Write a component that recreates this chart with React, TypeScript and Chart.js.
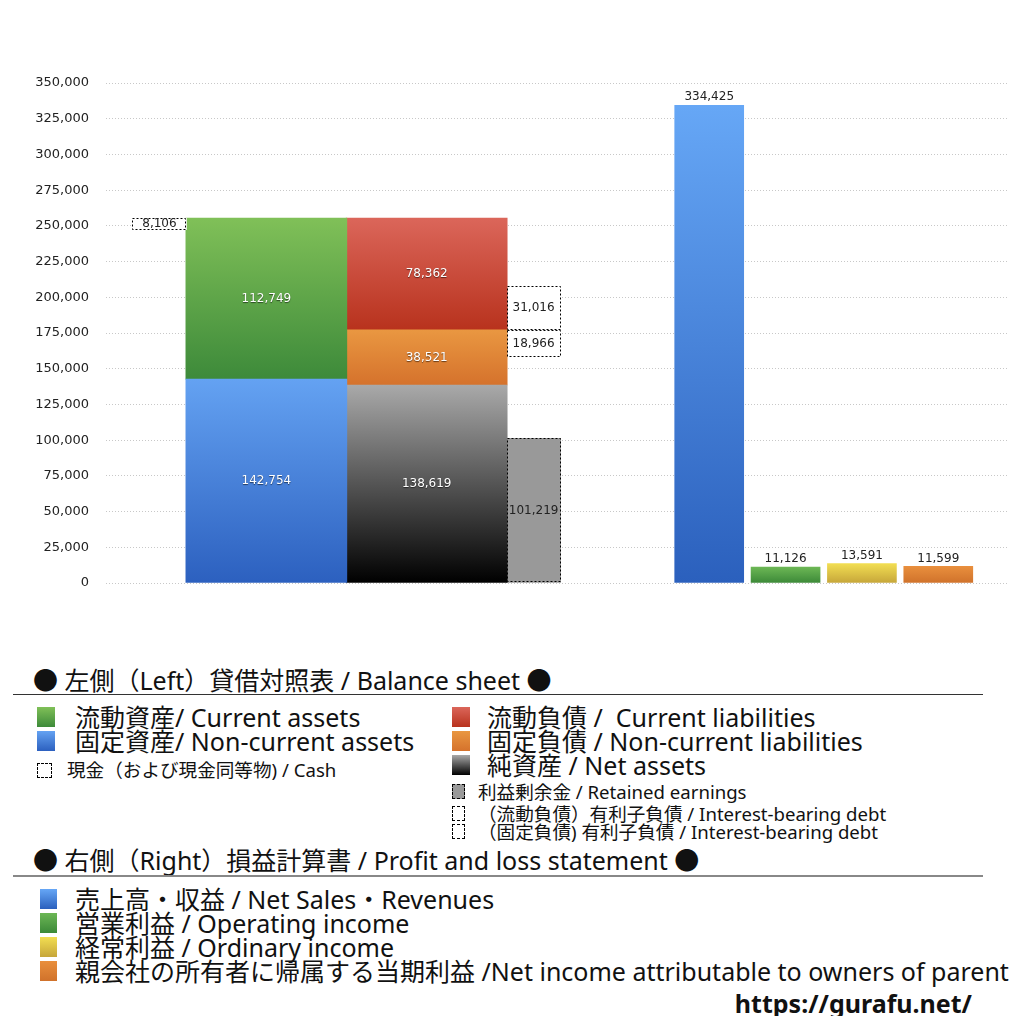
import { useEffect, useRef } from "react";
import { Chart, registerables } from "chart.js";

Chart.register(...registerables);

// ---- data (million yen) ----
const columns = [
  "現金",
  "資産",
  "負債・純資産",
  "利益剰余金・有利子負債",
  "売上高・収益",
  "営業利益",
  "経常利益",
  "当期利益",
];

const assetNames = ["固定資産", "流動資産"];
const assetValues = [142754, 112749];
const claimNames = ["純資産", "固定負債", "流動負債"];
const claimValues = [138619, 38521, 78362];
const cashValue = 8106;
const retainedEarnings = 101219;
const debtNames = ["固定負債 有利子負債", "流動負債 有利子負債"];
const debtValues = [18966, 31016];
const plNames = ["売上高・収益", "営業利益", "経常利益", "当期利益"];
const plValues = [334425, 11126, 13591, 11599];

const yMax = 350000;
const yStep = 25000;

// ---- legend texts ----
const bsTitle = "● 左側（Left）貸借対照表 / Balance sheet ●";
const bsLegendLeft = ["流動資産/ Current assets", "固定資産/ Non-current assets"];
const cashLegend = "現金（および現金同等物) / Cash";
const bsLegendRight = [
  "流動負債 /  Current liabilities",
  "固定負債 / Non-current liabilities",
  "純資産 / Net assets",
];
const bsLegendSmall = [
  "利益剰余金 / Retained earnings",
  "（流動負債）有利子負債 / Interest-bearing debt",
  "（固定負債) 有利子負債 / Interest-bearing debt",
];
const plTitle = "● 右側（Right）損益計算書 / Profit and loss statement ●";
const plLegend = [
  "売上高・収益 / Net Sales・Revenues",
  "営業利益 / Operating income",
  "経常利益 / Ordinary income",
  "親会社の所有者に帰属する当期利益 /Net income attributable to owners of parent",
];
const siteUrl = "https://gurafu.net/";

// ---- layout / styles ----
// bars sit on a fine, evenly spaced category grid
const SLOT_COUNT = 119;
const columnSlots = [7, 21, 42, 56, 79, 89, 99, 109];

const gradients: Record<string, [string, string]> = {
  固定資産: ["#64a2f2", "#2c60bf"],
  流動資産: ["#80c058", "#3d8a3a"],
  純資産: ["#a9a9a9", "#000000"],
  固定負債: ["#e99741", "#d5722c"],
  流動負債: ["#db665a", "#b8321d"],
  "売上高・収益": ["#66a7f6", "#2b60bd"],
  営業利益: ["#6cb755", "#3c8938"],
  経常利益: ["#f2de52", "#c6a63a"],
  当期利益: ["#e98f3d", "#d0722b"],
};
const NUM_FONT = "'DejaVu Sans', sans-serif";
const TEXT_FONT = "'Noto Sans', 'Noto Sans CJK JP', sans-serif";

const xLabels = Array.from({ length: SLOT_COUNT }, (_, i) => {
  const c = columnSlots.indexOf(i);
  return c >= 0 ? columns[c] : "";
});

function ranges(values: number[]) {
  let acc = 0;
  return values.map((v) => {
    const r = [acc, acc + v];
    acc += v;
    return r;
  });
}

function vGradient(colors: [string, string]) {
  return (c: any) => {
    const { chart, raw } = c;
    if (!chart.chartArea || !raw) return colors[0];
    const y = chart.scales.y;
    const top = y.getPixelForValue(raw.y[1]);
    const bottom = y.getPixelForValue(raw.y[0]);
    const g = chart.ctx.createLinearGradient(0, top, 0, bottom);
    g.addColorStop(0, colors[0]);
    g.addColorStop(1, colors[1]);
    return g;
  };
}

function buildDatasets() {
  const assetRanges = ranges(assetValues);
  const totalAssets = assetRanges[assetRanges.length - 1][1];
  const claimRanges = ranges(claimValues);
  const fixedTop = claimRanges[1][1];

  const bar = (
    label: string,
    col: number,
    range: number[],
    fill: any,
    thickness: number,
    labelMode: string,
    dashed = false,
  ) => ({
    label,
    data: [{ x: columns[col], y: range }],
    backgroundColor: fill,
    borderWidth: 0,
    barThickness: thickness,
    labelMode,
    dashed,
  });

  return [
    bar("現金", 0, [totalAssets - cashValue, totalAssets], "#ffffff", 54, "dark", true),
    ...assetNames.map((n, i) => bar(n, 1, assetRanges[i], vGradient(gradients[n]), 161, "light")),
    ...claimNames.map((n, i) => bar(n, 2, claimRanges[i], vGradient(gradients[n]), 161, "light")),
    bar("利益剰余金", 3, [0, retainedEarnings], "#999999", 54, "dark", true),
    bar(debtNames[0], 3, [fixedTop - debtValues[0], fixedTop], "#ffffff", 54, "dark", true),
    bar(debtNames[1], 3, [fixedTop, fixedTop + debtValues[1]], "#ffffff", 54, "dark", true),
    ...plNames.map((n, i) => bar(n, 4 + i, [0, plValues[i]], vGradient(gradients[n]), 69, "above")),
  ];
}

const annotate = {
  id: "annotate",
  afterDatasetsDraw(chart: any) {
    const { ctx } = chart;
    chart.data.datasets.forEach((ds: any, i: number) => {
      const meta = chart.getDatasetMeta(i);
      meta.data.forEach((el: any, j: number) => {
        const raw = ds.data[j];
        const { x, y, base, width } = el.getProps(["x", "y", "base", "width"], true);
        const left = x - width / 2;
        const top = Math.min(y, base);
        const h = Math.abs(base - y);
        ctx.save();
        if (ds.dashed) {
          ctx.strokeStyle = "#000";
          ctx.lineWidth = 1;
          ctx.setLineDash([2, 2]);
          ctx.strokeRect(Math.round(left) + 0.5, Math.round(top) + 0.5, Math.round(width) - 1, Math.round(h) - 1);
          ctx.setLineDash([]);
        }
        const text = (raw.y[1] - raw.y[0]).toLocaleString("en-US");
        ctx.font = `12px ${NUM_FONT}`;
        ctx.textAlign = "center";
        if (ds.labelMode === "above") {
          ctx.fillStyle = "#222";
          ctx.textBaseline = "bottom";
          ctx.fillText(text, x, top - 2);
        } else if (ds.labelMode === "light") {
          ctx.fillStyle = "#fff";
          ctx.shadowColor = "rgba(0,0,0,0.55)";
          ctx.shadowOffsetY = 1;
          ctx.shadowBlur = 1;
          ctx.textBaseline = "middle";
          ctx.fillText(text, x, top + h / 2);
        } else {
          ctx.fillStyle = "#222";
          ctx.textBaseline = "middle";
          ctx.fillText(text, x, top + h / 2);
        }
        ctx.restore();
      });
    });
  },
};

function Swatch({ style }: { style: any }) {
  return <span style={{ position: "absolute", boxSizing: "border-box", ...style }} />;
}

const grad = (n: string) => `linear-gradient(${gradients[n][0]}, ${gradients[n][1]})`;
const dashedBox = "1px dashed #000";

function Row({ top, height, left, text, size }: { top: number; height: number; left: number; text: string; size: number }) {
  return (
    <div
      style={{
        position: "absolute",
        top,
        left,
        height,
        lineHeight: `${height}px`,
        fontSize: size,
        whiteSpace: "pre",
      }}
    >
      {text}
    </div>
  );
}

export default function App() {
  const canvasRef = useRef<HTMLCanvasElement>(null);

  useEffect(() => {
    if (!canvasRef.current) return;
    const chart = new Chart(canvasRef.current, {
      type: "bar",
      data: { labels: xLabels, datasets: buildDatasets() as any },
      options: {
        animation: false,
        responsive: true,
        maintainAspectRatio: false,
        layout: { padding: { top: 75, right: 9, bottom: 25, left: 8 } },
        plugins: { legend: { display: false }, tooltip: { enabled: false } },
        scales: {
          x: { type: "category", offset: false, stacked: true, display: false },
          y: {
            min: 0,
            max: yMax,
            stacked: false,
            ticks: {
              stepSize: yStep,
              padding: 17,
              color: "#222",
              font: { family: NUM_FONT, size: 13 },
              callback: (v: any) => Number(v).toLocaleString("en-US"),
            },
            grid: { color: "#c8c8c8", drawTicks: false },
            border: { display: false, dash: [1, 2] },
            afterFit: (s: any) => {
              s.width = 90;
            },
          },
        },
      },
      plugins: [annotate],
    });
    return () => chart.destroy();
  }, []);

  const smallSwatches = [
    { background: "#999", border: dashedBox },
    { background: "#fff", border: dashedBox },
    { background: "#fff", border: dashedBox },
  ];

  return (
    <div
      style={{
        position: "relative",
        width: 1008,
        height: 1008,
        fontFamily: TEXT_FONT,
        color: "#111",
      }}
    >
      <div style={{ position: "absolute", top: 0, left: 0, width: 1008, height: 600 }}>
        <canvas ref={canvasRef} />
      </div>

      <Row top={656} height={32} left={25} text={bsTitle} size={25} />
      <div style={{ position: "absolute", top: 686, left: 5, width: 970, height: 1, background: "#333" }} />

      {bsLegendLeft.map((t, i) => (
        <div key={t}>
          <Swatch style={{ top: 699 + i * 24, left: 29, width: 18, height: 20, background: grad(assetNames[1 - i]) }} />
          <Row top={697 + i * 24} height={24} left={67} text={t} size={25} />
        </div>
      ))}
      <Swatch style={{ top: 755, left: 29, width: 15, height: 15, background: "#fff", border: dashedBox }} />
      <Row top={752} height={20} left={59} text={cashLegend} size={18.6} />

      {bsLegendRight.map((t, i) => (
        <div key={t}>
          <Swatch style={{ top: 699 + i * 24, left: 444, width: 18, height: 20, background: grad(claimNames[2 - i]) }} />
          <Row top={697 + i * 24} height={24} left={479} text={t} size={25} />
        </div>
      ))}
      {bsLegendSmall.map((t, i) => (
        <div key={t}>
          <Swatch style={{ top: [776, 798, 816][i], left: 444, width: 13, height: 15, ...smallSwatches[i] }} />
          <Row top={[775, 797, 815][i]} height={18} left={470} text={t} size={18.6} />
        </div>
      ))}

      <Row top={836} height={32} left={25} text={plTitle} size={25} />
      <div style={{ position: "absolute", top: 867, left: 5, width: 970, height: 2, background: "#888" }} />

      {plLegend.map((t, i) => (
        <div key={t}>
          <Swatch style={{ top: 881 + i * 24, left: 32, width: 17, height: 20, background: grad(plNames[i]) }} />
          <Row top={879 + i * 24} height={24} left={67} text={t} size={25} />
        </div>
      ))}

      <div
        style={{
          position: "absolute",
          top: 980,
          right: 44,
          lineHeight: "30px",
          fontSize: 25,
          fontWeight: 700,
          fontFamily: "'Noto Sans', sans-serif",
        }}
      >
        {siteUrl}
      </div>
    </div>
  );
}
